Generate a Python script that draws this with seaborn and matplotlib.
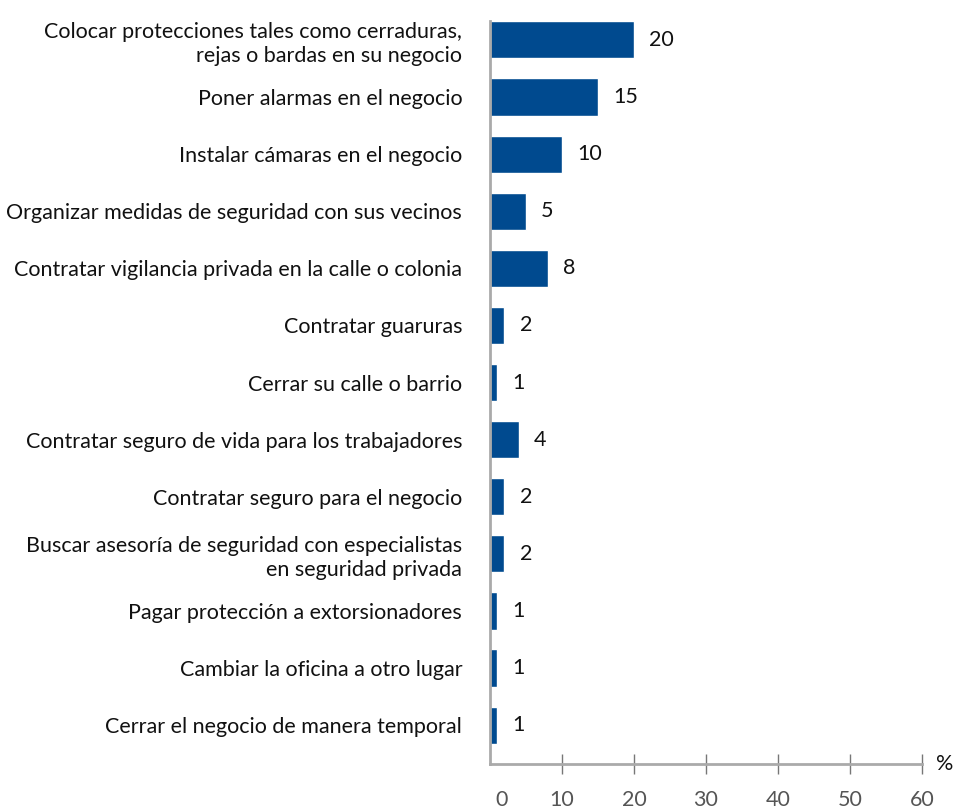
import matplotlib
matplotlib.use("Agg")
import matplotlib.pyplot as plt
import matplotlib.transforms as mtransforms
import seaborn as sns
import pandas as pd

# Medidas de protección adoptadas por los negocios (%)
medidas = [
    "Colocar protecciones tales como cerraduras,\nrejas o bardas en su negocio",
    "Poner alarmas en el negocio",
    "Instalar cámaras en el negocio",
    "Organizar medidas de seguridad con sus vecinos",
    "Contratar vigilancia privada en la calle o colonia",
    "Contratar guaruras",
    "Cerrar su calle o barrio",
    "Contratar seguro de vida para los trabajadores",
    "Contratar seguro para el negocio",
    "Buscar asesoría de seguridad con especialistas\nen seguridad privada",
    "Pagar protección a extorsionadores",
    "Cambiar la oficina a otro lugar",
    "Cerrar el negocio de manera temporal",
]
porcentajes = [20, 15, 10, 5, 8, 2, 1, 4, 2, 2, 1, 1, 1]
ticks_x = [0, 10, 20, 30, 40, 50, 60]

df = pd.DataFrame({"medida": medidas, "pct": porcentajes})

sns.set_theme(style="white")
plt.rcParams["font.family"] = ["Lato", "DejaVu Sans"]

W, H = 960, 808
fig = plt.figure(figsize=(W / 100, H / 100), dpi=100)
ax = fig.add_axes([490 / W, (H - 764) / H, (922 - 490) / W, (764 - 21) / H])

sns.barplot(data=df, y="medida", x="pct", orient="h", color="#004a8f",
            saturation=1, width=0.65, ax=ax)

for cont in ax.containers:
    ax.bar_label(cont, labels=[str(v) for v in porcentajes], padding=11,
                 fontsize=15.5, color="#111111")

ax.set_xlim(0, 60)
ax.set_ylim(12.68, -0.33)
ax.set_xlabel("")
ax.set_ylabel("")

ax.set_xticks(ticks_x)
ax.set_xticklabels([str(t) for t in ticks_x], fontsize=15.5, color="#555555")
ax.tick_params(axis="x", direction="inout", length=15, width=1,
               color="#777777", pad=11, bottom=True)
ax.xaxis.get_major_ticks()[0].tick1line.set_visible(False)
# desplazar la etiqueta del cero hacia la derecha
lbl0 = ax.get_xticklabels()[0]
lbl0.set_transform(lbl0.get_transform() +
                   mtransforms.ScaledTranslation(12 / 100, 0, fig.dpi_scale_trans))

ax.tick_params(axis="y", length=0, pad=20, labelsize=15.5, labelcolor="#111111")
for lbl in ax.get_yticklabels():
    lbl.set_linespacing(1.25)

for side in ("top", "right"):
    ax.spines[side].set_visible(False)
for side in ("left", "bottom"):
    ax.spines[side].set_color("#aaaaaa")
    ax.spines[side].set_linewidth(2)

ax.text(1.053, 0, "%", transform=ax.transAxes, ha="center", va="center",
        fontsize=15.5, color="#111111")

fig.savefig("out.png", dpi=100)
